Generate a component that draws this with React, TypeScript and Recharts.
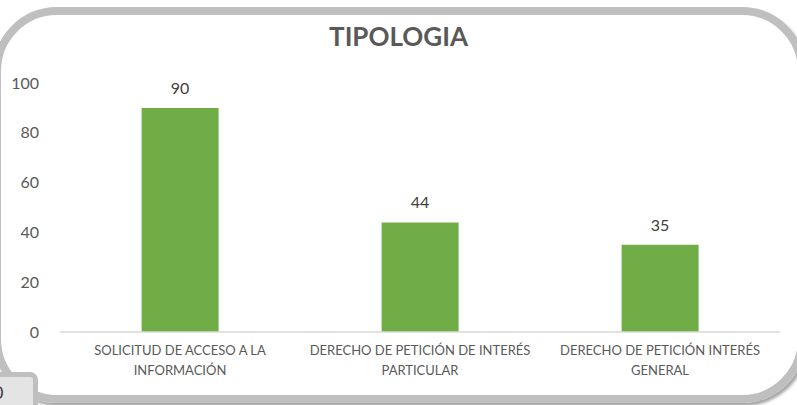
import React from 'react';
import { BarChart, Bar, XAxis, YAxis, LabelList } from 'recharts';

const categories = [
  'SOLICITUD DE ACCESO A LA INFORMACIÓN',
  'DERECHO DE PETICIÓN DE INTERÉS PARTICULAR',
  'DERECHO DE PETICIÓN INTERÉS GENERAL',
];
const values = [90, 44, 35];
const yTicks = [0, 20, 40, 60, 80, 100];

const data = categories.map((name, i) => ({ name, value: values[i] }));

const FONT = 'Lato, "Open Sans", sans-serif';
const GREY = '#595959';

// greedy word wrap, like the Excel axis labels
function wrap(text: string, max: number) {
  const lines: string[] = [];
  let cur = '';
  text.split(' ').forEach((w) => {
    const next = cur ? cur + ' ' + w : w;
    if (next.length > max && cur) {
      lines.push(cur);
      cur = w;
    } else cur = next;
  });
  if (cur) lines.push(cur);
  return lines;
}

function CatTick({ x, y, payload }: any) {
  const lines = wrap(payload.value, 30);
  return (
    <text x={x} y={y + 15} textAnchor="middle" fill={GREY} fontSize={13} fontFamily={FONT}>
      {lines.map((l, i) => (
        <tspan key={i} x={x} dy={i === 0 ? 0 : 20}>{l}</tspan>
      ))}
    </text>
  );
}

export default function App() {
  return (
    <div style={{ position: 'fixed', left: 0, top: 0, width: 797, height: 405, overflow: 'hidden', background: '#fff' }}>
      <div
        style={{
          position: 'absolute', left: -7, top: 7, width: 813, height: 396, boxSizing: 'border-box',
          border: '8px solid #bfbfbf', borderRadius: 64, boxShadow: '2px 3px 3px rgba(0,0,0,0.35)',
        }}
      />
      <div
        style={{
          position: 'absolute', left: 0, top: 20, width: 797, textAlign: 'center',
          fontFamily: FONT, fontWeight: 700, fontSize: 26, color: GREY,
        }}
      >
        TIPOLOGIA
      </div>
      <div style={{ position: 'absolute', left: 0, top: 0 }}>
        <BarChart
          width={797}
          height={405}
          data={data}
          margin={{ top: 83, right: 17, bottom: 13, left: 0 }}
          barCategoryGap="34%"
        >
          <XAxis
            dataKey="name"
            height={60}
            tickLine={false}
            axisLine={{ stroke: '#d9d9d9', strokeWidth: 1.5 }}
            tick={<CatTick />}
            interval={0}
          />
          <YAxis
            width={60}
            domain={[0, 100]}
            ticks={yTicks}
            tickLine={false}
            axisLine={false}
            tickMargin={15}
            tick={{ fill: GREY, fontSize: 16, fontFamily: FONT }}
          />
          <Bar dataKey="value" fill="#70ad47" isAnimationActive={false}>
            <LabelList dataKey="value" position="top" offset={14} fill="#404040" fontSize={16} fontFamily={FONT} />
          </Bar>
        </BarChart>
      </div>
      <div
        style={{
          position: 'absolute', left: -10, top: 372, width: 48, height: 50, boxSizing: 'border-box',
          background: '#e4e4e4', border: '5px solid #bfbfbf', borderRadius: 8, overflow: 'hidden',
        }}
      >
        <span style={{ position: 'absolute', left: -2, top: 4, fontFamily: FONT, fontSize: 18, color: '#404040' }}>0</span>
      </div>
    </div>
  );
}
